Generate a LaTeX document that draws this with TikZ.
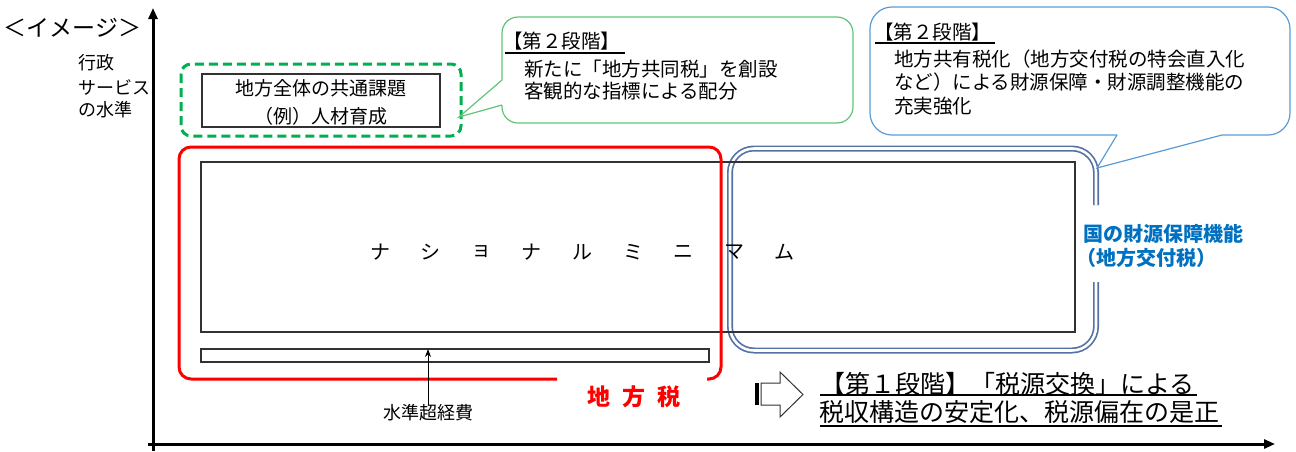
\documentclass[tikz,border=0pt]{standalone}
\usepackage{fontspec}
\setmainfont{Noto Sans CJK JP}
\usetikzlibrary{arrows.meta}
\definecolor{dgreen}{RGB}{0,176,80}
\definecolor{lgreen}{RGB}{96,196,120}
\definecolor{cblue}{RGB}{91,155,213}
\definecolor{fblue}{RGB}{84,114,164}
\definecolor{tblue}{RGB}{0,112,192}
\definecolor{dgray}{RGB}{50,50,50}
\begin{document}
\begin{tikzpicture}[x=1pt,y=-1pt,
  every node/.style={inner sep=0pt, outer sep=0pt},
  fs/.style={font=\fontsize{#1}{#1}\selectfont},
  fsb/.style={font=\fontsize{#1}{#1}\selectfont\bfseries},
  lt/.style={anchor=west},
  boxline/.style={draw=dgray, line width=1.1pt},
  callg/.style={draw=lgreen, line width=1.2pt},
  callb/.style={draw=cblue, line width=1.2pt},
  ul/.style={line width=1.1pt, black}]
\useasboundingbox (0,0) rectangle (1296,451);

% axes
\coordinate (yb) at (153,451);
\coordinate (yt) at (153,8);
\coordinate (xl) at (148,444);
\coordinate (xr) at (1275,444);
\draw[line width=3pt, -{Triangle[length=11pt,width=9pt]}] (yb) -- (yt);
\draw[line width=3pt, -{Triangle[length=11pt,width=9pt]}] (xl) -- (xr);

\node[fs=23, lt] (img) at (4,28) {＜イメージ＞};
\node[fs=18, lt] (ax1) at (78,63) {行政};
\node[fs=18, lt] (ax2) at (78,87) {サービス};
\node[fs=18, lt] (ax3) at (78,110) {の水準};

% blue double frame
\draw[fblue, double=white, double distance=2.6pt, line width=1.7pt, rounded corners=24pt]
  (1096,282) -- (1096,350.5) -- (730,350.5) -- (730,148.5) -- (1096,148.5) -- (1096,205);

% national minimum box
\node[boxline, minimum width=874pt, minimum height=170pt] (nm) at (638,247) {};
\foreach \c [count=\i from 0] in {ナ,シ,ョ,ナ,ル,ミ,ニ,マ,ム}
  \node[fs=20] (nm\i) at (380+50.6*\i,252) {\c};

% small box
\node[boxline, minimum width=508pt, minimum height=13pt] (sm) at (455,355.5) {};

% red frame
\draw[red, line width=3pt, rounded corners=12pt]
  (557,379) -- (179,379) -- (179,147) -- (721,147) -- (721,379) -- (707,379);
\node[fsb=23, red] (tax) at (634,397) {地\hspace{12pt}方\hspace{12pt}税};

% arrow to small box
\node[fs=18] (kei) at (428,413) {水準超経費};
\coordinate (smtip) at (428,349);
\draw[line width=0.9pt, -{Stealth[length=8pt,width=6pt]}] (kei.north) -- (smtip);

% green dashed group
\draw[dgreen, line width=3pt, dash pattern=on 9pt off 5pt, rounded corners=10pt]
  (181,64) rectangle (461,136);
\node[boxline, minimum width=238pt, minimum height=53pt] (kd) at (321,100.5) {};
\node[fs=19] (kd1) at (321,88) {地方全体の共通課題};
\node[fs=19] (kd2) at (321,116) {（例）人材育成};

% green callout
\draw[callg, rounded corners=16pt]
  (502,80) -- (502,17) -- (853,17) -- (853,123) -- (502,123) -- (502,105);
\coordinate (gtip) at (459,117);
\draw[callg, line join=miter] (502,80) -- (gtip) -- (502,105);
\node[fs=19.5, lt] (g0) at (503,41) {【第２段階】};
\draw[ul] (505,53) -- (625,53);
\node[fs=19.5, lt] (g1) at (524,69) {新たに「地方共同税」を創設};
\node[fs=19.5, lt] (g2) at (524,91) {客観的な指標による配分};

% blue callout
\draw[callb, rounded corners=22pt]
  (1117,135) -- (870,135) -- (870,7) -- (1290,7) -- (1290,135) -- (1222,135);
\coordinate (btip) at (1097,168);
\draw[callb, line join=miter] (1117,135) -- (btip) -- (1222,135);
\node[fs=19.5, lt] (b0) at (874,32) {【第２段階】};
\draw[ul] (875,43) -- (995,43);
\node[fs=19.5, lt] (b1) at (894,59) {地方共有税化（地方交付税の特会直入化};
\node[fs=19.5, lt] (b2) at (894,82.5) {など）による財源保障・財源調整機能の};
\node[fs=19.5, lt] (b3) at (894,106) {充実強化};

% blue side label
\node[fsb=20, lt, tblue] (kf1) at (1083,234) {国の財源保障機能};
\node[fsb=20, lt, tblue] (kf2) at (1076,258) {（地方交付税）};

% block arrow
\fill[black] (755,383) rectangle (759,405);
\draw[draw=dgray, line width=1pt, fill=white]
  (761,383) -- (780,383) -- (780,372) -- (803,394.5) -- (780,417) -- (780,405) -- (761,405) -- cycle;

% stage 1 text
\node[fs=25, lt] (s1) at (820,384) {【第１段階】「税源交換」による};
\node[fs=25, lt] (s2) at (819,412) {税収構造の安定化、税源偏在の是正};
\draw[ul] (820,395) -- (1197,395);
\draw[ul] (820,426) -- (1222,426);
\end{tikzpicture}
\end{document}
